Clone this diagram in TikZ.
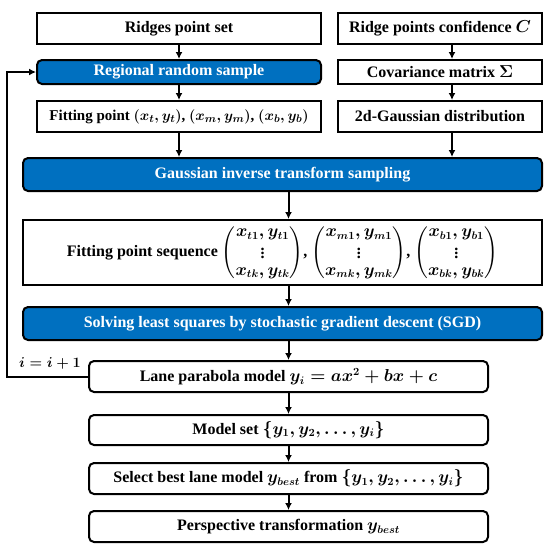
\documentclass[tikz,border=0pt]{standalone}
\usepackage{amsmath}
\usepackage{fontspec}
\setmainfont{Liberation Serif}
\usepackage{tikz}
\usetikzlibrary{shapes, arrows, positioning, calc, arrows.meta}

\definecolor{boxblue}{RGB}{0,112,192}

\begin{document}
\begin{tikzpicture}[x=1pt, y=-1pt,%
        plain/.style={rectangle, draw=black, fill=white, line width=2pt, inner sep=2pt, align=center, font=\fontsize{16}{19}\selectfont\bfseries\boldmath},
        blue/.style={plain, fill=boxblue, text=white, rounded corners=5pt},
        round/.style={plain, rounded corners=5pt},
        arrow/.style={-{Latex[length=7pt, width=7pt]}, line width=2pt, black}%
    ]
        \useasboundingbox (0, 0) rectangle (550, 550);

        \node[plain, minimum width=284, minimum height=31] (ridges) at (179, 28.5) {Ridges point set};
        \node[plain, minimum width=204, minimum height=31] (conf) at (440, 28.5) {Ridge points confidence $C$};
        \node[blue, minimum width=284, minimum height=24] (regional) at (179, 72) {Regional random sample};
        \node[plain, minimum width=204, minimum height=24] (cov) at (440, 72) {Covariance matrix $\Sigma$};
        \node[plain, minimum width=284, minimum height=31, font=\fontsize{15}{18}\selectfont\bfseries\boldmath] (fit) at (179, 116.5) {Fitting point $(x_t, y_t)$, $(x_m, y_m)$, $(x_b, y_b)$};
        \node[plain, minimum width=204, minimum height=31] (gauss) at (440, 116.5) {2d-Gaussian distribution};

        \node[blue, minimum width=519, minimum height=33] (invts) at (282.5, 174.5) {Gaussian inverse transform sampling};
        \node[plain, minimum width=519, minimum height=65] (seq) at (282.5, 252.5) {Fitting point sequence
            $\renewcommand{\arraystretch}{0.9}\begin{pmatrix} x_{t1}, y_{t1} \\ \vdots \\ x_{tk}, y_{tk} \end{pmatrix}$,
            $\renewcommand{\arraystretch}{0.9}\begin{pmatrix} x_{m1}, y_{m1} \\ \vdots \\ x_{mk}, y_{mk} \end{pmatrix}$,
            $\renewcommand{\arraystretch}{0.9}\begin{pmatrix} x_{b1}, y_{b1} \\ \vdots \\ x_{bk}, y_{bk} \end{pmatrix}$};
        \node[blue, minimum width=519, minimum height=33] (sgd) at (282.5, 323.5) {Solving least squares by stochastic gradient descent (SGD)};

        \node[round, minimum width=399, minimum height=31] (lane) at (288.5, 376.5) {Lane parabola model $y_i = ax^2 + bx + c$};
        \node[round, minimum width=399, minimum height=30] (modelset) at (288.5, 430) {Model set $\{y_1, y_2, \ldots, y_i\}$};
        \node[round, minimum width=399, minimum height=31] (select) at (288.5, 478.5) {Select best lane model $y_{best}$ from $\{y_1, y_2, \ldots, y_i\}$};
        \node[round, minimum width=399, minimum height=31] (persp) at (288.5, 526.5) {Perspective transformation $y_{best}$};

        % left and right columns
        \draw[arrow] (ridges) -- (regional);
        \draw[arrow] (regional) -- (fit);
        \draw[arrow] (fit.south) -- (fit.south |- invts.north);
        \draw[arrow] ([xshift=12pt]conf.south) -- ([xshift=12pt]cov.north);
        \draw[arrow] ([xshift=12pt]cov.south) -- ([xshift=12pt]gauss.north);
        \draw[arrow] ([xshift=12pt]gauss.south) -- ([xshift=12pt]gauss.south |- invts.north);

        % middle column
        \draw[arrow] (invts.south -| lane.north) -- (seq.north -| lane.north);
        \draw[arrow] (seq.south -| lane.north) -- (sgd.north -| lane.north);
        \draw[arrow] (sgd.south -| lane.north) -- (lane.north);
        \draw[arrow] (lane) -- (modelset);
        \draw[arrow] (modelset) -- (select);
        \draw[arrow] (select) -- (persp);

        % loop back
        \draw[arrow] (lane.west) -- ++(-81, 0) coordinate (loopc) |- (regional.west);
        \node[anchor=south west, inner sep=0pt, font=\fontsize{14}{16}\selectfont\bfseries\boldmath] (iter) at ([xshift=12pt, yshift=7pt]loopc) {$i = i + 1$};
    \end{tikzpicture}
\end{document}
